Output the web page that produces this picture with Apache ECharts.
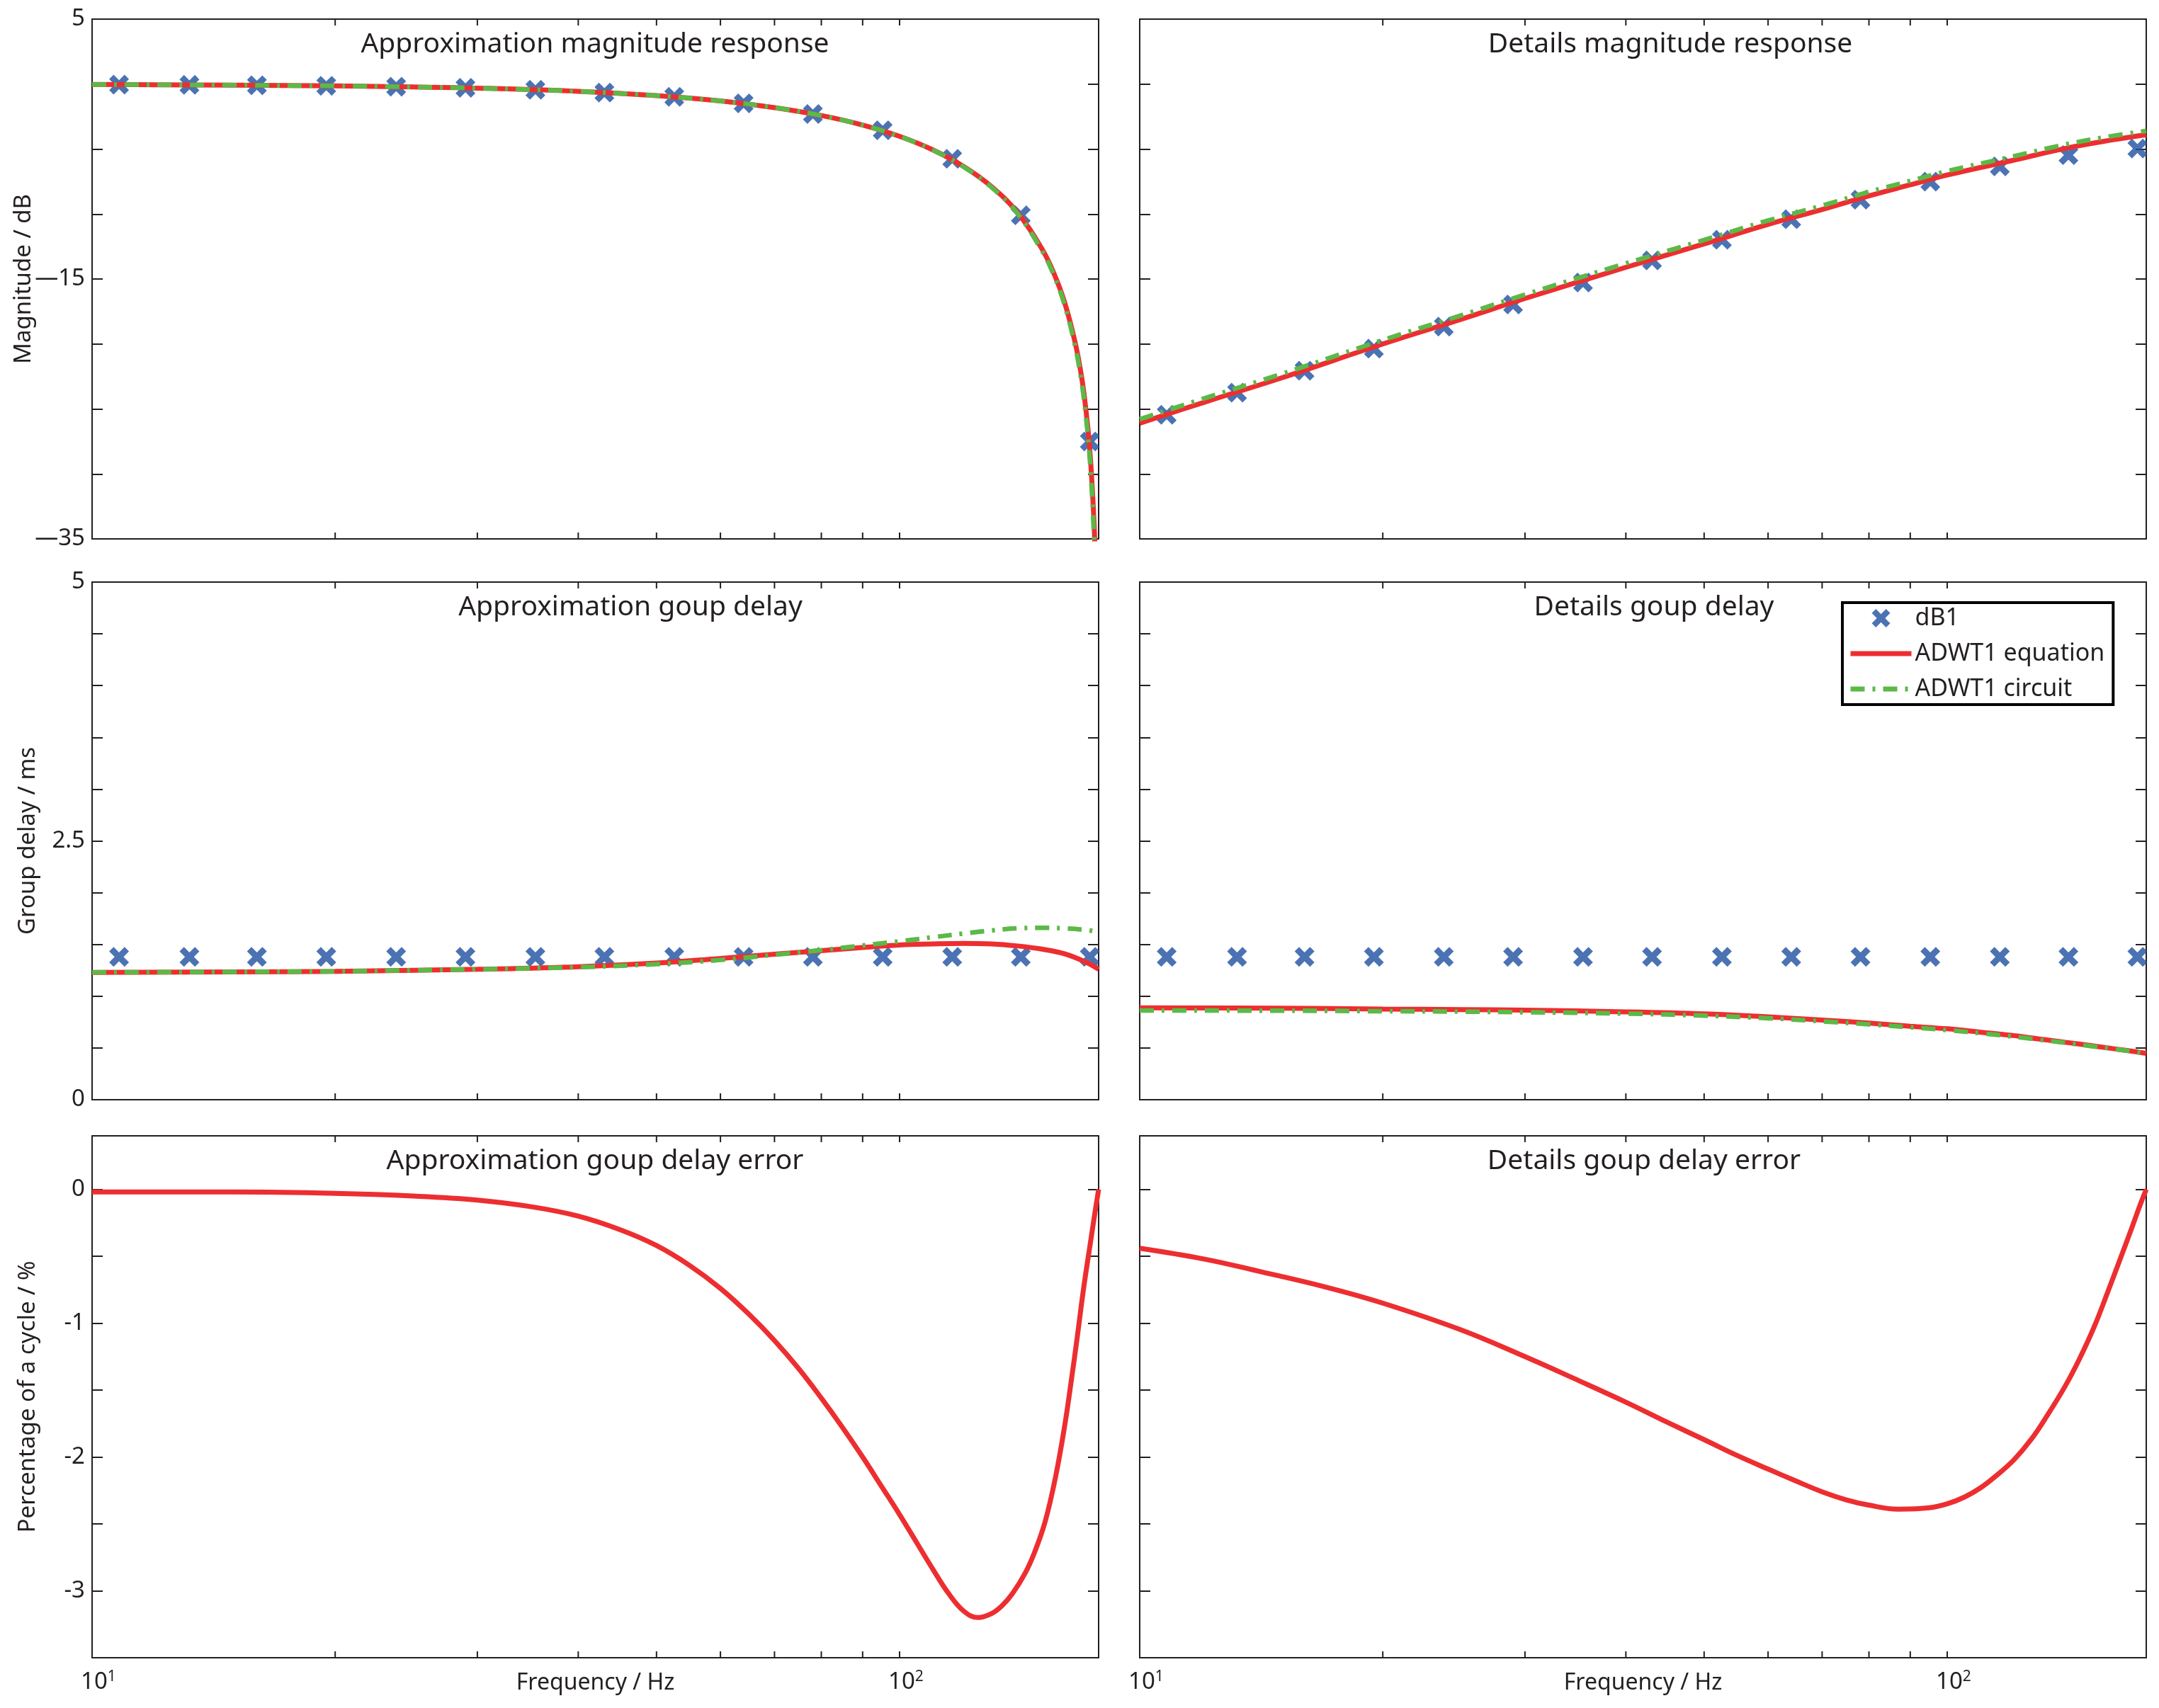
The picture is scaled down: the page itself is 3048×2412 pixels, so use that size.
<!DOCTYPE html>
<html>
<head>
<meta charset="utf-8">
<script src="https://cdn.jsdelivr.net/npm/echarts@6/dist/echarts.min.js"></script>
<style>
html,body{margin:0;padding:0;background:#fff;}
#chart{width:3048px;height:2412px;}
</style>
</head>
<body>
<div id="chart"></div>
<script>
// ---- data ----
var fMax = 176.4;
var minorFreqs = [20, 30, 40, 50, 60, 70, 80, 90];

// dB1 markers (same frequencies for every panel)
var markerFreq = [10.8, 13.2, 16.0, 19.5, 23.8, 29.0, 35.4, 43.1, 52.6, 64.1, 78.1, 95.3, 116.2, 141.3, 172.0];
var approxMagMarks = [-0.04, -0.06, -0.09, -0.13, -0.2, -0.29, -0.44, -0.65, -0.98, -1.48, -2.3, -3.55, -5.75, -10.1, -27.5];
var detailMagMarks = [-25.45, -23.75, -22.06, -20.36, -18.66, -16.96, -15.27, -13.57, -11.98, -10.4, -8.9, -7.5, -6.33, -5.47, -4.96];
var approxDelayMarks = [1.38, 1.38, 1.38, 1.38, 1.38, 1.38, 1.38, 1.38, 1.38, 1.38, 1.38, 1.38, 1.38, 1.38, 1.38];
var detailDelayMarks = [1.38, 1.38, 1.38, 1.38, 1.38, 1.38, 1.38, 1.38, 1.38, 1.38, 1.38, 1.38, 1.38, 1.38, 1.38];

// approximation magnitude
var approxMagFreq = [10, 12, 15, 20, 25, 30, 40, 50, 60, 70, 80, 90, 100, 110, 120, 130, 140, 150, 155, 160, 165, 168, 170, 172, 174, 175];
var approxMagEq   = [-0.03, -0.05, -0.08, -0.14, -0.22, -0.31, -0.56, -0.89, -1.3, -1.81, -2.42, -3.15, -4.02, -5.07, -6.34, -7.9, -9.9, -12.66, -14.45, -16.75, -19.9, -22.5, -24.9, -28.1, -33.4, -38.1];
var approxMagCirc = [-0.03, -0.05, -0.08, -0.14, -0.22, -0.31, -0.56, -0.89, -1.3, -1.81, -2.42, -3.15, -4.03, -5.08, -6.36, -7.95, -9.97, -12.8, -14.6, -16.95, -20.2, -22.9, -25.4, -28.8, -34.5, -40];

// details magnitude
var detailMagFreq = [10, 12, 15, 20, 25, 30, 40, 50, 60, 70, 80, 90, 100, 120, 140, 160, 176.4];
var detailMagEq   = [-26.1, -24.5, -22.6, -20.0, -18.1, -16.5, -14.1, -12.3, -10.8, -9.65, -8.6, -7.75, -7.0, -5.9, -4.95, -4.3, -3.9];
var detailMagCirc = [-25.8, -24.2, -22.3, -19.7, -17.8, -16.2, -13.8, -12.0, -10.5, -9.35, -8.3, -7.45, -6.7, -5.6, -4.65, -4.0, -3.6];

// group delay (ms)
var delayFreq = [10, 15, 20, 25, 30, 40, 50, 60, 70, 80, 90, 100, 110, 120, 130, 140, 150, 160, 170, 176.4];
var approxDelayEq   = [1.23, 1.235, 1.24, 1.25, 1.26, 1.285, 1.32, 1.365, 1.405, 1.44, 1.47, 1.495, 1.505, 1.51, 1.505, 1.485, 1.455, 1.41, 1.33, 1.26];
var approxDelayCirc = [1.23, 1.235, 1.24, 1.25, 1.26, 1.28, 1.31, 1.35, 1.4, 1.445, 1.49, 1.53, 1.57, 1.605, 1.635, 1.655, 1.66, 1.655, 1.64, 1.62];
var detailDelayEq   = [0.887, 0.884, 0.876, 0.871, 0.865, 0.849, 0.829, 0.80, 0.77, 0.74, 0.71, 0.685, 0.652, 0.622, 0.587, 0.555, 0.525, 0.495, 0.467, 0.447];
var detailDelayCirc = [0.862, 0.86, 0.855, 0.851, 0.845, 0.832, 0.812, 0.787, 0.757, 0.728, 0.7, 0.672, 0.642, 0.612, 0.58, 0.55, 0.52, 0.492, 0.465, 0.445];

// group delay error (% of a cycle)
var approxErrFreq = [10, 15, 20, 25, 30, 35, 40, 45, 50, 55, 60, 65, 70, 75, 80, 85, 90, 95, 100, 105, 110, 115, 120, 125, 130, 134, 138, 143, 147, 151.5, 156, 160, 163, 166, 169, 172.5, 174.5, 176.4];
var approxErr     = [-0.02, -0.02, -0.03, -0.05, -0.08, -0.13, -0.2, -0.3, -0.42, -0.57, -0.74, -0.93, -1.13, -1.34, -1.56, -1.78, -2.0, -2.22, -2.43, -2.64, -2.84, -3.02, -3.15, -3.2, -3.17, -3.11, -3.02, -2.87, -2.71, -2.48, -2.15, -1.78, -1.45, -1.1, -0.74, -0.38, -0.18, 0];
var detailErrFreq = [10, 12, 14, 17, 20, 25, 30, 35, 40, 45, 50, 55, 60, 65, 70, 75, 80, 87, 95, 100, 105, 110, 115, 121, 127, 133, 140, 146, 152, 158, 164, 169, 173, 176.4];
var detailErr     = [-0.44, -0.52, -0.61, -0.73, -0.85, -1.05, -1.25, -1.43, -1.59, -1.74, -1.87, -1.99, -2.09, -2.18, -2.26, -2.32, -2.36, -2.39, -2.38, -2.35, -2.3, -2.23, -2.14, -2.02, -1.87, -1.69, -1.47, -1.26, -1.03, -0.77, -0.51, -0.3, -0.13, 0];

// ---- styling ----
var FONT = '"Noto Sans", "Open Sans", sans-serif';
var TXT = '#231f20';
var AX = '#231f20';
var RED = '#ed2e30';
var GREEN = '#5cb947';
var BLUE = '#1e50a0';
var XMARK = 'path://M4.5,0 L10,5.5 L15.5,0 L20,4.5 L14.5,10 L20,15.5 L15.5,20 L10,14.5 L4.5,20 L0,15.5 L5.5,10 L0,4.5 Z';

var cols = [{left: 130, width: 1421}, {left: 1609, width: 1421}];
var rows = [{top: 27, height: 734}, {top: 822, height: 731}, {top: 1604, height: 737}];

function pairs(xs, ys) {
    var out = [];
    for (var i = 0; i < xs.length; i++) out.push([xs[i], ys[i]]);
    return out;
}

function isPow10(v) {
    var l = Math.log(v) / Math.LN10;
    return Math.abs(l - Math.round(l)) < 1e-6;
}

var grids = [], xAxes = [], yAxes = [], series = [], graphics = [];

// panel: row, col, y range, labels, title, data
var panels = [
    {r: 0, c: 0, min: -35, max: 5, step: 5, labels: {'5': '5', '-15': '\u201415', '-35': '\u201435'},
     yname: 'Magnitude / dB', gap: 80, title: 'Approximation magnitude response', tx: 840,
     marks: approxMagMarks, eq: [approxMagFreq, approxMagEq], circ: [approxMagFreq, approxMagCirc]},
    {r: 0, c: 1, min: -35, max: 5, step: 5, labels: null,
     title: 'Details magnitude response', tx: 2358,
     marks: detailMagMarks, eq: [detailMagFreq, detailMagEq], circ: [detailMagFreq, detailMagCirc]},
    {r: 1, c: 0, min: 0, max: 5, step: 0.5, labels: {'0': '0', '2.5': '2.5', '5': '5'},
     yname: 'Group delay / ms', gap: 74, title: 'Approximation goup delay', tx: 890,
     marks: approxDelayMarks, eq: [delayFreq, approxDelayEq], circ: [delayFreq, approxDelayCirc]},
    {r: 1, c: 1, min: 0, max: 5, step: 0.5, labels: null,
     title: 'Details goup delay', tx: 2335,
     marks: detailDelayMarks, eq: [delayFreq, detailDelayEq], circ: [delayFreq, detailDelayCirc]},
    {r: 2, c: 0, min: -3.5, max: 0.4, step: 0.5, labels: {'0': '0', '-1': '-1', '-2': '-2', '-3': '-3'},
     yname: 'Percentage of a cycle / %', gap: 74, title: 'Approximation goup delay error', tx: 840, xlab: true,
     eq: [approxErrFreq, approxErr]},
    {r: 2, c: 1, min: -3.5, max: 0.4, step: 0.5, labels: null,
     title: 'Details goup delay error', tx: 2321, xlab: true,
     eq: [detailErrFreq, detailErr]}
];

var tickLine = {color: AX, width: 2};

panels.forEach(function (p, g) {
    var col = cols[p.c], row = rows[p.r];
    grids.push({left: col.left, top: row.top, width: col.width, height: row.height,
                containLabel: false, outerBoundsMode: 'none'});

    xAxes.push({
        type: 'log', logBase: 10, gridIndex: g, min: 10, max: fMax, position: 'bottom',
        axisLine: {show: true, onZero: false, lineStyle: {color: AX, width: 2}},
        axisTick: {show: true, inside: true, length: 9, lineStyle: tickLine},
        splitLine: {show: false}, minorTick: {show: false},
        axisLabel: {
            show: !!p.xlab, margin: 17, hideOverlap: false,
            formatter: function (v) {
                if (!isPow10(v)) return '';
                return '{b|10}{s|' + Math.round(Math.log(v) / Math.LN10) + '}';
            },
            rich: {
                b: {fontSize: 33, fontFamily: FONT, color: TXT, lineHeight: 36, padding: [0, 0, 0, 18]},
                s: {fontSize: 21, fontFamily: FONT, color: TXT, verticalAlign: 'top'}
            }
        },
        name: p.xlab ? 'Frequency / Hz' : '', nameLocation: 'middle', nameGap: 20, nameMoveOverlap: false,
        nameTextStyle: {fontSize: 32, fontFamily: FONT, color: TXT}
    });
    xAxes.push({
        type: 'log', logBase: 10, gridIndex: g, min: 10, max: fMax, position: 'top',
        axisLine: {show: true, onZero: false, lineStyle: {color: AX, width: 2}},
        axisTick: {show: true, inside: true, length: 9, lineStyle: tickLine},
        axisLabel: {show: false}, splitLine: {show: false}
    });

    var labels = p.labels;
    yAxes.push({
        type: 'value', gridIndex: g, min: p.min, max: p.max, interval: p.step, position: 'left',
        axisLine: {show: true, onZero: false, lineStyle: {color: AX, width: 2}},
        axisTick: {show: true, inside: true, length: 15, lineStyle: tickLine},
        splitLine: {show: false},
        axisLabel: {
            show: !!labels, margin: 10, fontSize: 33, fontFamily: FONT, color: TXT,
            formatter: function (v) {
                var k = String(Math.round(v * 10) / 10);
                return labels && labels[k] !== undefined ? labels[k] : '';
            }
        },
        name: p.yname || '', nameLocation: 'middle', nameGap: p.gap || 0, nameMoveOverlap: false,
        nameTextStyle: {fontSize: 33, fontFamily: FONT, color: TXT}
    });
    yAxes.push({
        type: 'value', gridIndex: g, min: p.min, max: p.max, interval: p.step, position: 'right',
        axisLine: {show: true, onZero: false, lineStyle: {color: AX, width: 2}},
        axisTick: {show: true, inside: true, length: 15, lineStyle: tickLine},
        axisLabel: {show: false}, splitLine: {show: false}
    });

    var xi = 2 * g, yi = 2 * g;

    // minor log ticks on bottom and top edges
    series.push({
        type: 'custom', xAxisIndex: xi, yAxisIndex: yi, silent: true, z: 1,
        data: minorFreqs.map(function (f) { return [f, p.min]; }),
        renderItem: function (params, api) {
            var cs = params.coordSys;
            var x = api.coord([api.value(0), api.value(1)])[0];
            var yb = cs.y + cs.height, yt = cs.y;
            return {type: 'group', children: [
                {type: 'line', shape: {x1: x, y1: yb, x2: x, y2: yb - 9}, style: {stroke: AX, lineWidth: 2}},
                {type: 'line', shape: {x1: x, y1: yt, x2: x, y2: yt + 9}, style: {stroke: AX, lineWidth: 2}}
            ]};
        }
    });

    if (p.marks) {
        series.push({
            name: 'dB1', type: 'scatter', xAxisIndex: xi, yAxisIndex: yi,
            data: pairs(markerFreq, p.marks),
            symbol: XMARK, symbolSize: 28, symbolKeepAspect: true,
            itemStyle: {color: BLUE}, z: 2
        });
    }
    series.push({
        name: 'ADWT1 equation', type: 'line', xAxisIndex: xi, yAxisIndex: yi,
        data: pairs(p.eq[0], p.eq[1]), symbol: 'none', smooth: 0.4,
        lineStyle: {color: RED, width: 7}, itemStyle: {color: RED}, z: 3
    });
    if (p.circ) {
        series.push({
            name: 'ADWT1 circuit', type: 'line', xAxisIndex: xi, yAxisIndex: yi,
            data: pairs(p.circ[0], p.circ[1]), symbol: 'none', smooth: 0.4,
            lineStyle: {color: GREEN, width: 6.5, type: [20, 11, 4, 11]}, itemStyle: {color: GREEN}, z: 4
        });
    }

    graphics.push({
        type: 'text', x: p.tx, y: row.top + 36, z: 10,
        style: {text: p.title, fontSize: 39, fontFamily: FONT, fill: TXT, textAlign: 'center', textVerticalAlign: 'middle'}
    });
});

var option = {
    backgroundColor: '#ffffff',
    animation: false,
    grid: grids,
    xAxis: xAxes,
    yAxis: yAxes,
    series: series,
    graphic: graphics,
    legend: {
        data: [
            {name: 'dB1'},
            {name: 'ADWT1 equation', itemStyle: {opacity: 0}},
            {name: 'ADWT1 circuit', itemStyle: {opacity: 0}}
        ],
        orient: 'vertical', left: 2601, top: 851,
        padding: [4, 12, 4, 8], itemGap: 14, itemWidth: 86, itemHeight: 26,
        borderColor: '#000', borderWidth: 4, backgroundColor: '#fff',
        selectedMode: false,
        lineStyle: {width: 7},
        textStyle: {fontSize: 34, fontFamily: FONT, color: TXT, lineHeight: 36}
    }
};

echarts.init(document.getElementById('chart')).setOption(option);
</script>
</body>
</html>
